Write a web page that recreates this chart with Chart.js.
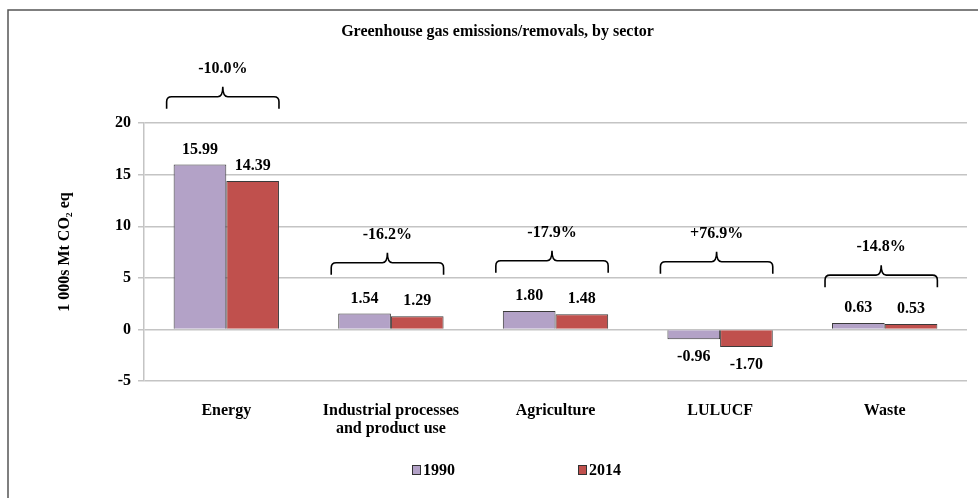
<!DOCTYPE html>
<html>
<head>
<meta charset="utf-8">
<script src="https://cdn.jsdelivr.net/npm/chart.js@4/dist/chart.umd.min.js"></script>
<style>
  html, body { margin: 0; padding: 0; background: #fff; }
  #wrap { width: 978px; height: 498px; }
</style>
</head>
<body>
<div id="wrap"><canvas id="myChart" width="978" height="498"></canvas></div>
<script>
var sectors = ['Energy', ['Industrial processes', 'and product use'], 'Agriculture', 'LULUCF', 'Waste'];
var values1990 = [15.99, 1.54, 1.80, -0.96, 0.63];
var values2014 = [14.39, 1.29, 1.48, -1.70, 0.53];
var changeLabels = ['-10.0%', '-16.2%', '-17.9%', '+76.9%', '-14.8%'];
// level (in 1 000s Mt) where the brace tips end
var braceLevels = [21.4, 5.3, 5.5, 5.4, 4.1];
var yTicks = [-5, 0, 5, 10, 15, 20];

var serif = '"Liberation Serif", "Times New Roman", serif';

// value labels over/under each bar
var valueLabels = {
    id: 'valueLabels',
    afterDatasetsDraw: function (chart) {
        var ctx = chart.ctx;
        ctx.save();
        ctx.font = 'bold 16px ' + serif;
        ctx.fillStyle = '#000';
        ctx.textAlign = 'center';
        ctx.textBaseline = 'alphabetic';
        chart.data.datasets.forEach(function (ds, i) {
            chart.getDatasetMeta(i).data.forEach(function (bar, j) {
                var v = ds.data[j];
                var y = v >= 0 ? bar.y - 11 : bar.y + 22;
                ctx.fillText(v.toFixed(2), bar.x, y);
            });
        });
        ctx.restore();
    }
};

// curly braces with the percent change for each sector
var braces = {
    id: 'braces',
    afterDraw: function (chart) {
        var ctx = chart.ctx;
        var yScale = chart.scales.y;
        var m0 = chart.getDatasetMeta(0).data;
        var m1 = chart.getDatasetMeta(1).data;
        ctx.save();
        ctx.strokeStyle = '#000';
        ctx.lineWidth = 1.6;
        ctx.font = 'bold 16px ' + serif;
        ctx.fillStyle = '#000';
        ctx.textAlign = 'center';
        ctx.textBaseline = 'middle';
        for (var i = 0; i < sectors.length; i++) {
            var x0 = m0[i].x - m0[i].width / 2 - 7;
            var x1 = m1[i].x + m1[i].width / 2;
            var xc = (x0 + x1) / 2;
            var yTip = yScale.getPixelForValue(braceLevels[i]);
            var yH = yTip - 12;
            var r = 5;
            var notch = 10;
            ctx.beginPath();
            ctx.moveTo(x0, yTip);
            ctx.lineTo(x0, yH + r);
            ctx.quadraticCurveTo(x0, yH, x0 + r, yH);
            ctx.lineTo(xc - r, yH);
            ctx.quadraticCurveTo(xc, yH, xc, yH - notch);
            ctx.quadraticCurveTo(xc, yH, xc + r, yH);
            ctx.lineTo(x1 - r, yH);
            ctx.quadraticCurveTo(x1, yH, x1, yH + r);
            ctx.lineTo(x1, yTip);
            ctx.stroke();
            ctx.fillText(changeLabels[i], xc, yH - notch - 18);
        }
        ctx.restore();
    }
};

// frame lines and legend
var frameAndLegend = {
    id: 'frameAndLegend',
    afterDraw: function (chart) {
        var ctx = chart.ctx;
        ctx.save();
        ctx.strokeStyle = '#555';
        ctx.lineWidth = 1.5;
        ctx.beginPath();
        ctx.moveTo(8, 498);
        ctx.lineTo(8, 10);
        ctx.lineTo(978, 10);
        ctx.stroke();

        ctx.font = 'bold 16px ' + serif;
        ctx.textAlign = 'left';
        ctx.textBaseline = 'alphabetic';
        var lx = [412, 578];
        chart.data.datasets.forEach(function (ds, i) {
            ctx.fillStyle = ds.backgroundColor;
            ctx.fillRect(lx[i], 465, 8, 9);
            ctx.strokeStyle = '#333';
            ctx.lineWidth = 1;
            ctx.strokeRect(lx[i] + 0.5, 465.5, 8, 9);
            ctx.fillStyle = '#000';
            ctx.fillText(ds.label, lx[i] + 11, 475);
        });
        ctx.restore();
    }
};

var ctx = document.getElementById('myChart');
var myChart = new Chart(ctx, {
    type: 'bar',
    data: {
        labels: sectors,
        datasets: [{
            label: '1990',
            data: values1990,
            backgroundColor: '#B3A2C7',
            borderColor: '#3a3a3a',
            borderWidth: 1
        }, {
            label: '2014',
            data: values2014,
            backgroundColor: '#C0504D',
            borderColor: '#3a3a3a',
            borderWidth: 1
        }]
    },
    options: {
        responsive: false,
        animation: false,
        layout: {
            padding: { top: 10, left: 28, right: 11, bottom: 0 }
        },
        datasets: {
            bar: {
                categoryPercentage: 0.64,
                barPercentage: 1.0
            }
        },
        plugins: {
            legend: { display: false },
            tooltip: { enabled: false },
            title: {
                display: true,
                text: 'Greenhouse gas emissions/removals, by sector',
                color: '#000',
                font: { family: serif, size: 16, weight: 'bold' },
                padding: { top: 12, bottom: 82 }
            }
        },
        scales: {
            x: {
                grid: { display: false },
                border: { display: false },
                ticks: {
                    color: '#000',
                    padding: 13,
                    maxRotation: 0,
                    font: { family: serif, size: 16, weight: 'bold', lineHeight: 1.1 }
                },
                afterFit: function (scale) { scale.height = 117; }
            },
            y: {
                min: -5,
                max: 20,
                afterBuildTicks: function (scale) {
                    scale.ticks = yTicks.map(function (v) { return { value: v }; });
                },
                grid: { color: '#c4c4c4', lineWidth: 1.5, tickLength: 6 },
                border: { color: '#c4c4c4', width: 1.5 },
                ticks: {
                    color: '#000',
                    padding: 7,
                    font: { family: serif, size: 16, weight: 'bold' }
                },
                title: {
                    display: true,
                    text: '1 000s Mt CO\u2082 eq',
                    color: '#000',
                    font: { family: serif, size: 16, weight: 'bold' },
                    padding: { top: 27, bottom: 0 }
                },
                afterFit: function (scale) { scale.width = 116; }
            }
        }
    },
    plugins: [valueLabels, braces, frameAndLegend]
});
</script>
</body>
</html>
